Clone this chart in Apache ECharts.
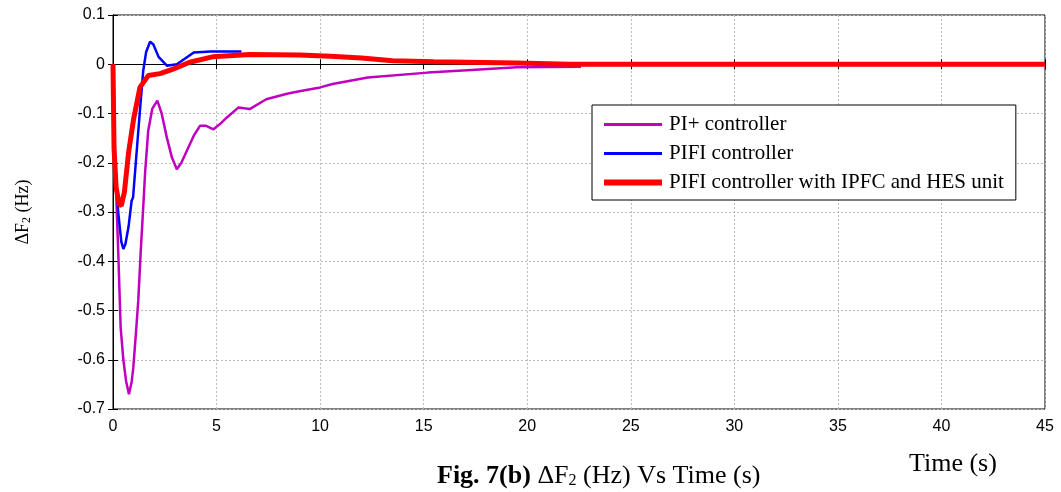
<!DOCTYPE html>
<html>
<head>
<meta charset="utf-8">
<script src="https://cdn.jsdelivr.net/npm/echarts@6/dist/echarts.min.js"></script>
<style>
  html, body { margin: 0; padding: 0; background: #fff; }
  #main { width: 1061px; height: 492px; }
</style>
</head>
<body>
<div id="main"></div>
<script>
// PI+ controller
var piTime = [0, 0.1, 0.26, 0.37, 0.5, 0.63, 0.77, 0.9, 0.98, 1.1, 1.22, 1.34, 1.46, 1.55, 1.7, 1.9, 2.14, 2.35, 2.6, 2.85, 3.08, 3.3, 3.56, 3.9, 4.2, 4.5, 4.85, 5.2, 5.5, 6.05, 6.6, 7.4, 8.4, 9.0, 10.0, 10.6, 12.3, 15.2, 17.1, 19.5, 22.6];
var piVal = [0, -0.2, -0.39, -0.535, -0.6, -0.643, -0.67, -0.645, -0.616, -0.55, -0.48, -0.379, -0.29, -0.22, -0.135, -0.09, -0.074, -0.1, -0.149, -0.19, -0.213, -0.2, -0.176, -0.145, -0.125, -0.125, -0.132, -0.12, -0.108, -0.088, -0.091, -0.071, -0.06, -0.055, -0.047, -0.04, -0.027, -0.017, -0.012, -0.006, -0.005];

// PIFI controller
var pifiTime = [0, 0.1, 0.25, 0.4, 0.5, 0.6, 0.75, 0.9, 0.97, 1.1, 1.3, 1.46, 1.6, 1.79, 1.95, 2.2, 2.6, 3.08, 3.5, 3.9, 4.7, 6.2];
var pifiVal = [0, -0.2, -0.3, -0.36, -0.375, -0.365, -0.33, -0.277, -0.27, -0.2, -0.094, -0.013, 0.025, 0.046, 0.04, 0.015, -0.003, 0, 0.012, 0.024, 0.026, 0.026];

// PIFI with IPFC and HES
var hesTime = [0, 0.05, 0.15, 0.3, 0.4, 0.55, 0.75, 1.0, 1.3, 1.7, 2.27, 2.9, 3.7, 4.8, 6.6, 9.0, 10.5, 12, 13.5, 15.5, 19.5, 22, 45];
var hesVal = [0, -0.17, -0.25, -0.285, -0.287, -0.26, -0.18, -0.11, -0.047, -0.023, -0.019, -0.01, 0.004, 0.015, 0.02, 0.019, 0.016, 0.0125, 0.007, 0.005, 0.0025, 0, 0];

var seriesNames = ['PI+ controller', 'PIFI controller', 'PIFI controller with IPFC and HES unit'];

function pairs(t, v) {
    return t.map(function (x, i) { return [x, v[i]]; });
}

// legend line sample: a bar of given thickness centred in a 58x14 box
function lineIcon(w) {
    var a = 7 - w / 2, b = 7 + w / 2;
    return 'path://M0,0M0,' + a + 'L58,' + a + 'L58,' + b + 'L0,' + b + 'ZM58,14';
}

var chart = echarts.init(document.getElementById('main'));
var serif = 'Liberation Serif';
var sans = 'Liberation Sans';

var option = {
    animation: false,
    backgroundColor: '#fff',
    grid: { left: 113, right: 16, top: 15, bottom: 83, show: true, borderColor: '#000', borderWidth: 1 },
    legend: {
        orient: 'vertical',
        left: 592,
        top: 105,
        backgroundColor: '#fff',
        borderColor: '#000',
        borderWidth: 1,
        padding: [9, 12, 7, 12],
        itemWidth: 58,
        itemHeight: 14,
        itemGap: 8,
        data: [
            { name: seriesNames[0], icon: lineIcon(3) },
            { name: seriesNames[1], icon: lineIcon(3) },
            { name: seriesNames[2], icon: lineIcon(6) }
        ],
        textStyle: { fontFamily: serif, fontSize: 21, color: '#000', padding: [0, 0, 0, 2] }
    },
    xAxis: [{
        type: 'value', min: 0, max: 45, interval: 5,
        axisLine: { lineStyle: { color: '#000' } },
        axisTick: { inside: true, length: 5, lineStyle: { color: '#000' } },
        axisLabel: { fontFamily: sans, fontSize: 16, color: '#000', margin: 10 },
        splitLine: { show: true, lineStyle: { color: '#bbb', type: [2, 2] } }
    }, {
        type: 'value', min: 0, max: 45, interval: 5, position: 'top',
        axisLine: { lineStyle: { color: '#000' } },
        axisTick: { inside: true, length: 5, lineStyle: { color: '#000' } },
        axisLabel: { show: false }, splitLine: { show: false }
    }],
    yAxis: [{
        type: 'value', min: -0.7, max: 0.1, interval: 0.1,
        axisLine: { show: true, lineStyle: { color: '#000' } },
        axisTick: { show: true, inside: true, length: 5, lineStyle: { color: '#000' } },
        axisLabel: {
            fontFamily: sans, fontSize: 16, color: '#000', margin: 8,
            formatter: function (v) { return String(Math.round(v * 10) / 10); }
        },
        splitLine: { show: true, lineStyle: { color: '#bbb', type: [2, 2] } },
        name: '{n|ΔF}{s|2}{n| (Hz)}',
        nameLocation: 'middle',
        nameRotate: 90,
        nameGap: 80,
        nameTextStyle: {
            rich: {
                n: { fontFamily: serif, fontSize: 18, color: '#000' },
                s: { fontFamily: serif, fontSize: 12, color: '#000', padding: [8, 0, 0, 0] }
            }
        }
    }, {
        type: 'value', min: -0.7, max: 0.1, interval: 0.1, position: 'right',
        axisLine: { show: true, lineStyle: { color: '#000' } },
        axisTick: { show: true, inside: true, length: 5, lineStyle: { color: '#000' } },
        axisLabel: { show: false }, splitLine: { show: false }
    }],
    series: [{
        name: seriesNames[0], type: 'line', symbol: 'none', z: 2,
        lineStyle: { color: '#c000c0', width: 2.5 }, itemStyle: { color: '#c000c0' },
        data: pairs(piTime, piVal)
    }, {
        name: seriesNames[1], type: 'line', symbol: 'none', z: 3,
        lineStyle: { color: '#0000ff', width: 2.5 }, itemStyle: { color: '#0000ff' },
        data: pairs(pifiTime, pifiVal)
    }, {
        name: seriesNames[2], type: 'line', symbol: 'none', z: 4,
        lineStyle: { color: '#ff0000', width: 5 }, itemStyle: { color: '#ff0000' },
        data: pairs(hesTime, hesVal)
    }],
    graphic: [{
        type: 'text', left: 909, top: 451,
        style: { text: 'Time (s)', font: '26px "Liberation Serif"', fill: '#000' }
    }, {
        type: 'text', left: 437, top: 463,
        style: {
            text: '{b|Fig. 7(b)}{n| ΔF}{s|2}{n| (Hz) Vs Time (s)}',
            rich: {
                b: { fontFamily: serif, fontSize: 26, fontWeight: 'bold', fill: '#000' },
                n: { fontFamily: serif, fontSize: 26, fill: '#000' },
                s: { fontFamily: serif, fontSize: 16, fill: '#000', padding: [10, 0, 0, 0] }
            }
        }
    }]
};

chart.setOption(option);
</script>
</body>
</html>
